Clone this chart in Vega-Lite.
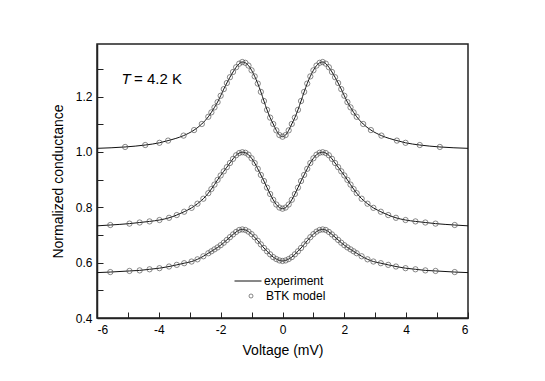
{
  "$schema": "https://vega.github.io/schema/vega-lite/v6.json",
  "width": 371,
  "height": 274,
  "autosize": "none",
  "padding": {"left": 97, "top": 44, "right": 77, "bottom": 63},
  "background": "white",
  "config": {
    "view": {"stroke": "#222", "strokeWidth": 1.5},
    "font": "Liberation Sans",
    "axis": {"grid": false, "domainColor": "#222", "domainWidth": 1.5, "tickColor": "#222", "tickWidth": 1, "labelColor": "#000", "titleColor": "#000", "labelFont": "Liberation Sans", "titleFont": "Liberation Sans", "labelFontSize": 12, "titleFontSize": 14, "titleFontWeight": "normal"}
  },
  "data": {"values": [
    {"c":"a","v":-6,"g":1.013,"m":0},{"c":"a","v":-5.09,"g":1.018,"m":1},{"c":"a","v":-4.44,"g":1.025,"m":1},{"c":"a","v":-3.98,"g":1.033,"m":1},{"c":"a","v":-3.7,"g":1.041,"m":1},{"c":"a","v":-3.2,"g":1.059,"m":1},{"c":"a","v":-2.86,"g":1.079,"m":1},{"c":"a","v":-2.61,"g":1.101,"m":1},{"c":"a","v":-2.4,"g":1.127,"m":1},{"c":"a","v":-2.3,"g":1.143,"m":1},{"c":"a","v":-2.2,"g":1.161,"m":1},{"c":"a","v":-2.1,"g":1.18,"m":1},{"c":"a","v":-2.0,"g":1.203,"m":1},{"c":"a","v":-1.9,"g":1.227,"m":1},{"c":"a","v":-1.8,"g":1.249,"m":1},{"c":"a","v":-1.7,"g":1.27,"m":1},{"c":"a","v":-1.6,"g":1.289,"m":1},{"c":"a","v":-1.5,"g":1.306,"m":1},{"c":"a","v":-1.4,"g":1.319,"m":1},{"c":"a","v":-1.3,"g":1.325,"m":1},{"c":"a","v":-1.2,"g":1.322,"m":1},{"c":"a","v":-1.1,"g":1.312,"m":1},{"c":"a","v":-1.0,"g":1.295,"m":1},{"c":"a","v":-0.9,"g":1.273,"m":1},{"c":"a","v":-0.8,"g":1.247,"m":1},{"c":"a","v":-0.7,"g":1.217,"m":1},{"c":"a","v":-0.6,"g":1.184,"m":1},{"c":"a","v":-0.5,"g":1.152,"m":1},{"c":"a","v":-0.4,"g":1.124,"m":1},{"c":"a","v":-0.3,"g":1.101,"m":1},{"c":"a","v":-0.2,"g":1.078,"m":1},{"c":"a","v":-0.1,"g":1.061,"m":1},
    {"c":"a","v":0,"g":1.055,"m":1},
    {"c":"a","v":0.1,"g":1.061,"m":1},{"c":"a","v":0.2,"g":1.078,"m":1},{"c":"a","v":0.3,"g":1.101,"m":1},{"c":"a","v":0.4,"g":1.124,"m":1},{"c":"a","v":0.5,"g":1.152,"m":1},{"c":"a","v":0.6,"g":1.184,"m":1},{"c":"a","v":0.7,"g":1.217,"m":1},{"c":"a","v":0.8,"g":1.247,"m":1},{"c":"a","v":0.9,"g":1.273,"m":1},{"c":"a","v":1.0,"g":1.295,"m":1},{"c":"a","v":1.1,"g":1.312,"m":1},{"c":"a","v":1.2,"g":1.322,"m":1},{"c":"a","v":1.3,"g":1.325,"m":1},{"c":"a","v":1.4,"g":1.319,"m":1},{"c":"a","v":1.5,"g":1.306,"m":1},{"c":"a","v":1.6,"g":1.289,"m":1},{"c":"a","v":1.7,"g":1.27,"m":1},{"c":"a","v":1.8,"g":1.249,"m":1},{"c":"a","v":1.9,"g":1.227,"m":1},{"c":"a","v":2.0,"g":1.203,"m":1},{"c":"a","v":2.1,"g":1.18,"m":1},{"c":"a","v":2.2,"g":1.161,"m":1},{"c":"a","v":2.3,"g":1.143,"m":1},{"c":"a","v":2.4,"g":1.127,"m":1},{"c":"a","v":2.61,"g":1.101,"m":1},{"c":"a","v":2.86,"g":1.079,"m":1},{"c":"a","v":3.2,"g":1.059,"m":1},{"c":"a","v":3.7,"g":1.041,"m":1},{"c":"a","v":3.98,"g":1.033,"m":1},{"c":"a","v":4.44,"g":1.025,"m":1},{"c":"a","v":5.09,"g":1.018,"m":1},{"c":"a","v":6,"g":1.013,"m":0},

    {"c":"b","v":-6,"g":0.733,"m":0},{"c":"b","v":-5.57,"g":0.736,"m":1},{"c":"b","v":-4.95,"g":0.741,"m":1},{"c":"b","v":-4.62,"g":0.745,"m":1},{"c":"b","v":-4.3,"g":0.749,"m":1},{"c":"b","v":-3.98,"g":0.754,"m":1},{"c":"b","v":-3.67,"g":0.762,"m":1},{"c":"b","v":-3.42,"g":0.772,"m":1},{"c":"b","v":-3.18,"g":0.784,"m":1},{"c":"b","v":-2.94,"g":0.798,"m":1},{"c":"b","v":-2.75,"g":0.813,"m":1},{"c":"b","v":-2.56,"g":0.831,"m":1},{"c":"b","v":-2.4,"g":0.851,"m":1},{"c":"b","v":-2.3,"g":0.866,"m":1},{"c":"b","v":-2.2,"g":0.882,"m":1},{"c":"b","v":-2.1,"g":0.899,"m":1},{"c":"b","v":-2.0,"g":0.915,"m":1},{"c":"b","v":-1.9,"g":0.93,"m":1},{"c":"b","v":-1.8,"g":0.945,"m":1},{"c":"b","v":-1.7,"g":0.96,"m":1},{"c":"b","v":-1.6,"g":0.975,"m":1},{"c":"b","v":-1.5,"g":0.988,"m":1},{"c":"b","v":-1.4,"g":0.996,"m":1},{"c":"b","v":-1.3,"g":0.999,"m":1},{"c":"b","v":-1.2,"g":0.997,"m":1},{"c":"b","v":-1.1,"g":0.99,"m":1},{"c":"b","v":-1.0,"g":0.977,"m":1},{"c":"b","v":-0.9,"g":0.96,"m":1},{"c":"b","v":-0.8,"g":0.939,"m":1},{"c":"b","v":-0.7,"g":0.917,"m":1},{"c":"b","v":-0.6,"g":0.895,"m":1},{"c":"b","v":-0.5,"g":0.871,"m":1},{"c":"b","v":-0.4,"g":0.848,"m":1},{"c":"b","v":-0.3,"g":0.827,"m":1},{"c":"b","v":-0.2,"g":0.81,"m":1},{"c":"b","v":-0.1,"g":0.799,"m":1},
    {"c":"b","v":0,"g":0.795,"m":1},
    {"c":"b","v":0.1,"g":0.799,"m":1},{"c":"b","v":0.2,"g":0.81,"m":1},{"c":"b","v":0.3,"g":0.827,"m":1},{"c":"b","v":0.4,"g":0.848,"m":1},{"c":"b","v":0.5,"g":0.871,"m":1},{"c":"b","v":0.6,"g":0.895,"m":1},{"c":"b","v":0.7,"g":0.917,"m":1},{"c":"b","v":0.8,"g":0.939,"m":1},{"c":"b","v":0.9,"g":0.96,"m":1},{"c":"b","v":1.0,"g":0.977,"m":1},{"c":"b","v":1.1,"g":0.99,"m":1},{"c":"b","v":1.2,"g":0.997,"m":1},{"c":"b","v":1.3,"g":0.999,"m":1},{"c":"b","v":1.4,"g":0.996,"m":1},{"c":"b","v":1.5,"g":0.988,"m":1},{"c":"b","v":1.6,"g":0.975,"m":1},{"c":"b","v":1.7,"g":0.96,"m":1},{"c":"b","v":1.8,"g":0.945,"m":1},{"c":"b","v":1.9,"g":0.93,"m":1},{"c":"b","v":2.0,"g":0.915,"m":1},{"c":"b","v":2.1,"g":0.899,"m":1},{"c":"b","v":2.2,"g":0.882,"m":1},{"c":"b","v":2.3,"g":0.866,"m":1},{"c":"b","v":2.4,"g":0.851,"m":1},{"c":"b","v":2.56,"g":0.831,"m":1},{"c":"b","v":2.75,"g":0.813,"m":1},{"c":"b","v":2.94,"g":0.798,"m":1},{"c":"b","v":3.18,"g":0.784,"m":1},{"c":"b","v":3.42,"g":0.772,"m":1},{"c":"b","v":3.67,"g":0.762,"m":1},{"c":"b","v":3.98,"g":0.754,"m":1},{"c":"b","v":4.3,"g":0.749,"m":1},{"c":"b","v":4.62,"g":0.745,"m":1},{"c":"b","v":4.95,"g":0.741,"m":1},{"c":"b","v":5.57,"g":0.736,"m":1},{"c":"b","v":6,"g":0.733,"m":0},

    {"c":"c","v":-6,"g":0.564,"m":0},{"c":"c","v":-5.57,"g":0.566,"m":1},{"c":"c","v":-4.95,"g":0.57,"m":1},{"c":"c","v":-4.62,"g":0.572,"m":1},{"c":"c","v":-4.3,"g":0.576,"m":1},{"c":"c","v":-3.98,"g":0.58,"m":1},{"c":"c","v":-3.67,"g":0.586,"m":1},{"c":"c","v":-3.42,"g":0.592,"m":1},{"c":"c","v":-3.18,"g":0.598,"m":1},{"c":"c","v":-2.94,"g":0.604,"m":1},{"c":"c","v":-2.75,"g":0.612,"m":1},{"c":"c","v":-2.56,"g":0.623,"m":1},{"c":"c","v":-2.4,"g":0.634,"m":1},{"c":"c","v":-2.3,"g":0.641,"m":1},{"c":"c","v":-2.2,"g":0.648,"m":1},{"c":"c","v":-2.1,"g":0.655,"m":1},{"c":"c","v":-2.0,"g":0.663,"m":1},{"c":"c","v":-1.9,"g":0.672,"m":1},{"c":"c","v":-1.8,"g":0.682,"m":1},{"c":"c","v":-1.7,"g":0.692,"m":1},{"c":"c","v":-1.6,"g":0.702,"m":1},{"c":"c","v":-1.5,"g":0.711,"m":1},{"c":"c","v":-1.4,"g":0.718,"m":1},{"c":"c","v":-1.3,"g":0.72,"m":1},{"c":"c","v":-1.2,"g":0.718,"m":1},{"c":"c","v":-1.1,"g":0.712,"m":1},{"c":"c","v":-1.0,"g":0.703,"m":1},{"c":"c","v":-0.9,"g":0.692,"m":1},{"c":"c","v":-0.8,"g":0.679,"m":1},{"c":"c","v":-0.7,"g":0.666,"m":1},{"c":"c","v":-0.6,"g":0.653,"m":1},{"c":"c","v":-0.5,"g":0.641,"m":1},{"c":"c","v":-0.4,"g":0.63,"m":1},{"c":"c","v":-0.3,"g":0.62,"m":1},{"c":"c","v":-0.2,"g":0.613,"m":1},{"c":"c","v":-0.1,"g":0.608,"m":1},
    {"c":"c","v":0,"g":0.606,"m":1},
    {"c":"c","v":0.1,"g":0.608,"m":1},{"c":"c","v":0.2,"g":0.613,"m":1},{"c":"c","v":0.3,"g":0.62,"m":1},{"c":"c","v":0.4,"g":0.63,"m":1},{"c":"c","v":0.5,"g":0.641,"m":1},{"c":"c","v":0.6,"g":0.653,"m":1},{"c":"c","v":0.7,"g":0.666,"m":1},{"c":"c","v":0.8,"g":0.679,"m":1},{"c":"c","v":0.9,"g":0.692,"m":1},{"c":"c","v":1.0,"g":0.703,"m":1},{"c":"c","v":1.1,"g":0.712,"m":1},{"c":"c","v":1.2,"g":0.718,"m":1},{"c":"c","v":1.3,"g":0.72,"m":1},{"c":"c","v":1.4,"g":0.718,"m":1},{"c":"c","v":1.5,"g":0.711,"m":1},{"c":"c","v":1.6,"g":0.702,"m":1},{"c":"c","v":1.7,"g":0.692,"m":1},{"c":"c","v":1.8,"g":0.682,"m":1},{"c":"c","v":1.9,"g":0.672,"m":1},{"c":"c","v":2.0,"g":0.663,"m":1},{"c":"c","v":2.1,"g":0.655,"m":1},{"c":"c","v":2.2,"g":0.648,"m":1},{"c":"c","v":2.3,"g":0.641,"m":1},{"c":"c","v":2.4,"g":0.634,"m":1},{"c":"c","v":2.56,"g":0.623,"m":1},{"c":"c","v":2.75,"g":0.612,"m":1},{"c":"c","v":2.94,"g":0.604,"m":1},{"c":"c","v":3.18,"g":0.598,"m":1},{"c":"c","v":3.42,"g":0.592,"m":1},{"c":"c","v":3.67,"g":0.586,"m":1},{"c":"c","v":3.98,"g":0.58,"m":1},{"c":"c","v":4.3,"g":0.576,"m":1},{"c":"c","v":4.62,"g":0.572,"m":1},{"c":"c","v":4.95,"g":0.57,"m":1},{"c":"c","v":5.57,"g":0.566,"m":1},{"c":"c","v":6,"g":0.564,"m":0}
  ]},
  "encoding": {
    "x": {"field": "v", "type": "quantitative", "scale": {"domain": [-6, 6], "nice": false, "zero": false},
      "axis": {"title": "Voltage (mV)", "values": [-6,-5,-4,-3,-2,-1,0,1,2,3,4,5,6], "tickSize": -6, "labelPadding": 12, "titlePadding": 8,
        "labelExpr": "datum.value % 2 === 0 ? '' + datum.value : ''",
        "encode": {"ticks": {"update": {"y2": {"signal": "datum.value % 2 === 0 ? -6 : -4"}}}}}},
    "y": {"field": "g", "type": "quantitative", "scale": {"domain": [0.4, 1.39], "nice": false, "zero": false},
      "axis": {"title": "Normalized conductance", "values": [0.4,0.5,0.6,0.7,0.8,0.9,1.0,1.1,1.2,1.3], "tickSize": -6, "labelPadding": 11, "titlePadding": 10,
        "labelExpr": "round(datum.value*10) % 2 === 0 ? format(datum.value, '.1f') : ''",
        "encode": {"ticks": {"update": {"x2": {"signal": "round(datum.value*10) % 2 === 0 ? 6 : 4"}}}}}}
  },
  "layer": [
    {
      "mark": {"type": "line", "strokeWidth": 1, "interpolate": "monotone"},
      "encoding": {
        "detail": {"field": "c"},
        "color": {"datum": "experiment", "type": "nominal", "scale": {"domain": ["experiment"], "range": ["#111111"]},
          "legend": {"orient": "none", "legendX": 137, "legendY": 231, "title": null, "padding": 0, "clipHeight": 12,
            "labelFont": "Liberation Sans", "labelFontSize": 12, "labelColor": "#000", "labelOffset": 2,
            "symbolType": "stroke", "symbolSize": 729, "symbolStrokeWidth": 1, "symbolStrokeColor": "#111111"}}
      }
    },
    {
      "transform": [{"filter": "datum.m === 1"}],
      "mark": {"type": "point", "filled": false, "size": 28, "strokeWidth": 0.7, "opacity": 1, "color": "#555555"},
      "encoding": {
        "shape": {"datum": "BTK model", "type": "nominal", "scale": {"domain": ["BTK model"], "range": ["circle"]},
          "legend": {"orient": "none", "legendX": 148, "legendY": 246, "title": null, "padding": 0, "clipHeight": 12,
            "labelFont": "Liberation Sans", "labelFontSize": 12, "labelColor": "#000", "labelOffset": 9,
            "symbolSize": 16, "symbolStrokeWidth": 0.7, "symbolStrokeColor": "#555555", "symbolFillColor": "transparent"}}
      }
    },
    {
      "transform": [{"filter": "datum.c === 'a' && datum.v === 0"}],
      "mark": {"type": "text", "text": "T", "fontStyle": "italic", "fontSize": 15, "font": "Liberation Sans", "align": "left", "baseline": "middle", "color": "#000"},
      "encoding": {"x": {"datum": -5.21}, "y": {"datum": 1.262}}
    },
    {
      "transform": [{"filter": "datum.c === 'a' && datum.v === 0"}],
      "mark": {"type": "text", "text": "= 4.2 K", "fontSize": 15, "font": "Liberation Sans", "align": "left", "baseline": "middle", "color": "#000"},
      "encoding": {"x": {"datum": -4.8}, "y": {"datum": 1.262}}
    }
  ]
}
